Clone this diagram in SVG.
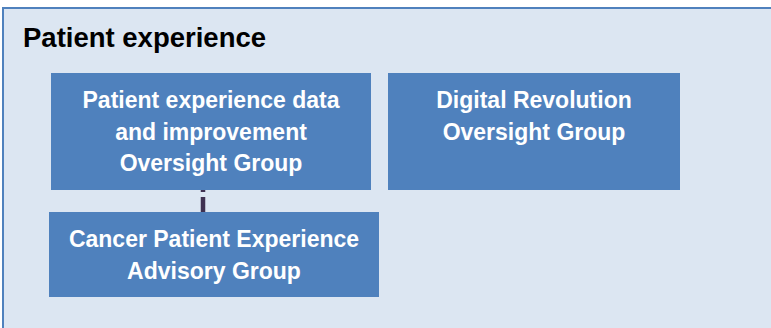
<svg xmlns="http://www.w3.org/2000/svg" width="771" height="328" viewBox="0 0 771 328">
<style>
.box{fill:#4f81bd;}
.lbl{font-family:"Liberation Sans",Arial,sans-serif;font-weight:bold;font-size:23px;fill:#ffffff;text-anchor:middle;}
.title{font-family:"Liberation Sans",Arial,sans-serif;font-weight:bold;font-size:27.5px;fill:#000000;}
.conn{stroke:#3f3151;stroke-width:4.5;fill:none;stroke-dasharray:15 5;}
</style>
<rect width="771" height="328" fill="#ffffff"/>
<g id="container">
<rect x="3" y="8" width="800" height="340" fill="#dce6f2" stroke="#4f81bd" stroke-width="2"/>
<text class="title" x="23" y="47">Patient experience</text>
</g>
<g id="connectors">
<line class="conn" x1="203" y1="212" x2="203" y2="190"/>
</g>
<g id="node-pe-data">
<rect class="box" x="51" y="73" width="320" height="117"/>
<text class="lbl" x="211" y="108">Patient experience data</text>
<text class="lbl" x="211" y="139.5">and improvement</text>
<text class="lbl" x="211" y="171">Oversight Group</text>
</g>
<g id="node-digital">
<rect class="box" x="388" y="73" width="292" height="117"/>
<text class="lbl" x="534" y="108">Digital Revolution</text>
<text class="lbl" x="534" y="139.5">Oversight Group</text>
</g>
<g id="node-cancer">
<rect class="box" x="49" y="212" width="330" height="85"/>
<text class="lbl" x="214" y="247">Cancer Patient Experience</text>
<text class="lbl" x="214" y="279">Advisory Group</text>
</g>
</svg>
